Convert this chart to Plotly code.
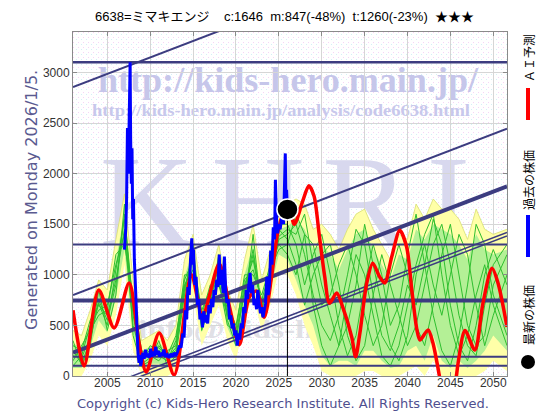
import base64
import plotly.graph_objects as go

# ---------------- data ----------------
# past prices (blue)
blue_x = [2007.00, 2007.15, 2007.25, 2007.35, 2007.45, 2007.55, 2007.66, 2007.72, 2007.80, 2007.88,
          2007.96, 2008.05, 2008.15, 2008.30, 2008.45, 2008.58, 2008.70, 2008.80, 2008.90, 2009.00,
          2009.15, 2009.30, 2009.45, 2009.60, 2009.75, 2009.90, 2010.05, 2010.20, 2010.35, 2010.50,
          2010.65, 2010.80, 2010.95, 2011.10, 2011.25, 2011.40, 2011.60, 2011.80, 2012.00, 2012.20,
          2012.40, 2012.60, 2012.80, 2013.00, 2013.20, 2013.40, 2013.60, 2013.80, 2013.95, 2014.10,
          2014.25, 2014.40, 2014.55, 2014.70, 2014.85, 2014.95, 2015.05, 2015.20, 2015.35, 2015.50,
          2015.65, 2015.80, 2015.95, 2016.10, 2016.25, 2016.40, 2016.55, 2016.70, 2016.85, 2017.00,
          2017.15, 2017.30, 2017.45, 2017.60, 2017.75, 2017.90, 2018.05, 2018.20, 2018.35, 2018.50,
          2018.65, 2018.80, 2018.95, 2019.10, 2019.25, 2019.40, 2019.55, 2019.70, 2019.85, 2020.00,
          2020.15, 2020.30, 2020.45, 2020.60, 2020.75, 2020.90, 2021.05, 2021.20, 2021.35, 2021.50,
          2021.65, 2021.80, 2021.95, 2022.10, 2022.25, 2022.40, 2022.55, 2022.70, 2022.85, 2023.00,
          2023.15, 2023.30, 2023.45, 2023.60, 2023.75, 2023.90, 2024.05, 2024.20, 2024.35, 2024.50,
          2024.60, 2024.70, 2024.85, 2025.00, 2025.15, 2025.30, 2025.45, 2025.55, 2025.65, 2025.75,
          2025.82, 2025.90, 2026.00]
blue_y = [1250, 1450, 1750, 2450, 2000, 2650, 3100, 2350, 1900, 2250,
          1550, 1750, 1150, 850, 420, 220, 130, 210, 100, 160,
          230, 170, 260, 190, 220, 180, 270, 190, 240, 200,
          290, 210, 250, 190, 230, 200, 260, 190, 210, 180,
          220, 190, 230, 200, 240, 300, 280, 420, 380, 650,
          560, 880, 800, 1150, 1360, 1100, 1250, 900, 980, 700,
          760, 560, 620, 480, 640, 530, 600, 520, 700, 620,
          760, 680, 850, 800, 950, 880, 1200, 900, 1050, 820,
          1180, 850, 720, 760, 560, 600, 470, 520, 400, 450,
          300, 420, 360, 520, 470, 680, 620, 850, 760, 900,
          1020, 820, 900, 700, 760, 660, 850, 720, 620, 680,
          580, 650, 720, 980, 800, 900, 1240, 1100, 1470, 1350,
          1940, 1600, 1410, 1500, 1450, 1540, 1640, 1500, 1800, 2200,
          1740, 1840, 1646]

# AI forecast (red)
red_x = [2001.0, 2002.3, 2004.0, 2005.8, 2007.55, 2008.7, 2009.55, 2011.05, 2012.8, 2014.8,
         2016.1, 2018.05, 2019.25, 2020.4, 2021.55, 2022.4, 2023.3, 2024.15, 2024.85, 2025.65,
         2026.1, 2026.8, 2027.75, 2028.5, 2029.1, 2029.7, 2030.35, 2030.9, 2031.75, 2032.45,
         2033.5, 2033.95, 2034.45, 2035.25, 2035.95, 2036.75, 2037.35, 2038.15, 2039.1, 2039.9,
         2040.5, 2041.1, 2041.45, 2042.4, 2042.95, 2043.45, 2043.9, 2044.7, 2045.55, 2045.9,
         2046.7, 2047.85, 2048.8, 2049.85, 2050.55, 2051.6]
red_y = [650, 100, 850, 475, 920, 330, 40, 425, 10, 1000,
         600, 1110, 680, 310, 780, 840, 580, 980, 1410, 1640,
         1700, 1500, 1720, 1880, 1780, 1400, 980, 720, 820, 680,
         385, 190, 425, 920, 1115, 980, 920, 1175, 1440, 1275,
         850, 455, 355, 455, 330, 128, -60, -180, -60, 128,
         450, 257, 720, 1065, 920, 485]

# ensemble of similar-pattern projections (green)
fan_x = [2001, 2002, 2003, 2004, 2005, 2006, 2007, 2008, 2009, 2010,
         2011, 2012, 2013, 2014, 2015, 2016, 2017, 2018, 2019, 2020,
         2021, 2022, 2023, 2024, 2025, 2026, 2027, 2028, 2029, 2030,
         2031, 2032, 2033, 2034, 2035, 2036, 2037, 2038, 2039, 2040,
         2041, 2042, 2043, 2044, 2045, 2046, 2047, 2048, 2049, 2050, 2051.6]
env_hi = [450, 400, 650, 950, 850, 1350, 1800, 950, 350, 400,
          450, 350, 500, 1150, 1400, 800, 1000, 1300, 850, 650,
          1150, 1500, 950, 1250, 1650, 1700, 1750, 1700, 1450, 1500,
          1400, 1250, 1450, 1600, 1650, 1450, 1300, 1150, 1400, 1350,
          1700, 1550, 1750, 1650, 1650, 1550, 1350, 1650, 1450, 1400, 1450]
env_lo = [0, 0, 150, 400, 300, 600, 1100, 250, 0, 0,
          0, 0, 50, 600, 800, 300, 500, 700, 350, 150,
          550, 800, 450, 700, 1050, 1000, 800, 500, 300, 50,
          0, 0, 0, 0, 50, 50, 0, 0, 0, 50,
          100, 0, 150, 0, 0, 0, 0, 0, 50, 150, 50]
band_hi = [320, 280, 520, 820, 700, 1150, 1600, 780, 250, 290,
           330, 240, 380, 980, 1250, 650, 880, 1150, 700, 500,
           1000, 1300, 780, 1080, 1450, 1480, 1550, 1450, 1250, 1300,
           1200, 1050, 1250, 1400, 1450, 1250, 1100, 950, 1200, 1150,
           1450, 1350, 1500, 1450, 1400, 1300, 1150, 1400, 1250, 1200, 1250]
band_lo = [80, 80, 280, 550, 430, 780, 1250, 420, 80, 120,
           120, 80, 180, 780, 950, 430, 680, 880, 480, 280,
           700, 950, 580, 850, 1200, 1150, 950, 700, 500, 200,
           100, 150, 150, 100, 250, 250, 150, 80, 100, 250,
           300, 150, 400, 150, 80, 150, 80, 150, 250, 400, 250]
green_lines = [
    [250, 120, 350, 750, 550, 900, 1600, 700, 120, 180, 300, 200, 250, 850, 1200, 500, 750, 1100, 650, 350,
     850, 1250, 650, 950, 1350, 1400, 1500, 1200, 800, 500, 350, 600, 1000, 1450, 1300, 800, 400, 250, 500, 900,
     700, 1100, 1550, 1300, 700, 300, 150, 500, 1000, 1250, 900],
    [100, 200, 500, 650, 700, 1100, 1400, 500, 200, 250, 200, 150, 350, 1000, 1000, 600, 900, 950, 500, 450,
     1000, 1000, 800, 1100, 1300, 1200, 1000, 1400, 1300, 900, 600, 300, 500, 900, 1500, 1100, 700, 300, 150, 400,
     1000, 1300, 900, 600, 1000, 1400, 1200, 700, 300, 600, 1000],
    [350, 100, 300, 850, 450, 800, 1700, 400, 100, 150, 350, 100, 200, 800, 1300, 450, 700, 1200, 550, 300,
     700, 1400, 600, 850, 1500, 1500, 1300, 900, 1200, 1400, 1000, 500, 200, 400, 900, 1300, 1000, 500, 700, 1200,
     1600, 1100, 600, 250, 100, 400, 900, 1500, 1300, 800, 400],
    [150, 300, 450, 600, 650, 1200, 1300, 800, 250, 200, 150, 250, 300, 950, 1150, 650, 850, 1050, 700, 500,
     950, 1050, 750, 1050, 1250, 1300, 1600, 1400, 700, 300, 100, 300, 800, 1200, 1000, 600, 200, 100, 300, 700,
     1100, 1400, 1600, 1000, 500, 200, 400, 800, 1100, 700, 300],
    [300, 250, 550, 700, 600, 950, 1450, 600, 150, 300, 250, 200, 400, 900, 1050, 550, 800, 900, 600, 400,
     900, 1150, 700, 1000, 1450, 1350, 1100, 700, 1000, 1200, 1300, 900, 400, 150, 300, 800, 1200, 900, 600, 300,
     500, 900, 1300, 1500, 1100, 600, 300, 200, 700, 1100, 1300],
    [200, 180, 380, 720, 500, 1050, 1550, 650, 180, 220, 280, 180, 280, 880, 1150, 500, 780, 1000, 620, 380,
     820, 1200, 680, 980, 1380, 1450, 1400, 1600, 1100, 700, 800, 1100, 1300, 1000, 600, 300, 500, 1000, 1300, 1000,
     500, 300, 700, 1200, 1500, 1000, 500, 300, 400, 900, 1200],
]

# reference levels (navy)
level_values = [3100, 1300, 745, 191, 102]
level_widths = [2.5, 2, 4, 2, 2]
trend_x = [2001, 2051.6]
trend_start = [2856, 800, 230, -225, -260]
trend_end = [4501, 2445, 1875, 1420, 1385]
trend_widths = [2, 2, 4, 1.5, 1.5]

latest_x = [2026.0]
latest_y = [1646]

x_ticks = [2005, 2010, 2015, 2020, 2025, 2030, 2035, 2040, 2045, 2050]
y_ticks = [0, 500, 1000, 1500, 2000, 2500, 3000]

title_text = ("6638=ミマキエンジ\u00a0\u00a0\u00a0\u00a0c:1646\u00a0\u00a0m:847(-48%)"
              "\u00a0\u00a0t:1260(-23%)\u00a0\u00a0★★★")

# ---------------- figure ----------------
NAVY = "#3c3c80"
fig = go.Figure()

fig.add_trace(go.Scatter(x=fan_x, y=env_lo, mode="lines", line=dict(width=0, color="#ffffa8"),
                         hoverinfo="skip", showlegend=False))
fig.add_trace(go.Scatter(x=fan_x, y=env_hi, mode="lines", line=dict(width=0.8, color="#d8e070"),
                         fill="tonexty", fillcolor="#ffffa8", hoverinfo="skip", showlegend=False))
fig.add_trace(go.Scatter(x=fan_x, y=band_lo, mode="lines", line=dict(width=0, color="#b0f090"),
                         hoverinfo="skip", showlegend=False))
fig.add_trace(go.Scatter(x=fan_x, y=band_hi, mode="lines", line=dict(width=0, color="#b0f090"),
                         fill="tonexty", fillcolor="#b4f096", hoverinfo="skip", showlegend=False))
for g in green_lines:
    fig.add_trace(go.Scatter(x=fan_x, y=g, mode="lines", line=dict(width=1, color="#2fbf2f"),
                             hoverinfo="skip", showlegend=False))

for v, w in zip(level_values, level_widths):
    fig.add_trace(go.Scatter(x=trend_x, y=[v, v], mode="lines", line=dict(width=w, color=NAVY),
                             hoverinfo="skip", showlegend=False))
for s, e, w in zip(trend_start, trend_end, trend_widths):
    fig.add_trace(go.Scatter(x=trend_x, y=[s, e], mode="lines", line=dict(width=w, color=NAVY),
                             hoverinfo="skip", showlegend=False))

fig.add_trace(go.Scatter(x=[latest_x[0], latest_x[0]], y=[0, latest_y[0]], mode="lines",
                         line=dict(width=1, color="#000000"), hoverinfo="skip", showlegend=False))

fig.add_trace(go.Scatter(x=red_x, y=red_y, mode="lines", line=dict(width=3.5, color="#ff0000", shape="spline",
                         smoothing=0.8), showlegend=False))
fig.add_trace(go.Scatter(x=blue_x, y=blue_y, mode="lines", line=dict(width=3, color="#0000ff"),
                         showlegend=False))
fig.add_trace(go.Scatter(x=latest_x, y=latest_y, mode="markers",
                         marker=dict(size=21, color="#000000", line=dict(width=1.5, color="#ffffff")),
                         showlegend=False))

# background with stipple + watermark (drawn below the plot)
W, H = 434, 344
svg = f'''<svg xmlns="http://www.w3.org/2000/svg" width="{W}" height="{H}" viewBox="0 0 {W} {H}">
<defs><pattern id="p" width="5" height="5" patternUnits="userSpaceOnUse">
<rect width="5" height="5" fill="#ffffff"/>
<rect x="0" y="0" width="1" height="1" fill="#f6d4f6"/>
<rect x="3" y="2" width="1" height="1" fill="#d4f0f6"/>
</pattern></defs>
<rect width="{W}" height="{H}" fill="url(#p)"/>
<text x="25" y="60" font-family="Liberation Serif, DejaVu Serif, serif" font-weight="bold" font-size="36"
 fill="#c6c6ea" textLength="380" lengthAdjust="spacingAndGlyphs">http://kids-hero.main.jp/</text>
<text x="19" y="84" font-family="Liberation Serif, DejaVu Serif, serif" font-weight="bold" font-size="17"
 fill="#c8c8ec" textLength="378" lengthAdjust="spacingAndGlyphs">http://kids-hero.main.jp/analysis/code6638.html</text>
<text x="27" y="213" font-family="Liberation Serif, DejaVu Serif, serif" font-size="130"
 fill="#d8d8ee" textLength="370" lengthAdjust="spacing">KHRI</text>
<text x="65" y="306" font-family="Liberation Serif, DejaVu Serif, serif" font-weight="bold" font-size="26"
 fill="#e0e0e6" textLength="340" lengthAdjust="spacingAndGlyphs">info@kids-hero.main.jp</text>
</svg>'''
src = "data:image/svg+xml;base64," + base64.b64encode(svg.encode("utf-8")).decode("ascii")
fig.add_layout_image(dict(source=src, xref="paper", yref="paper", x=0, y=1, sizex=1, sizey=1,
                          xanchor="left", yanchor="top", sizing="stretch", layer="below"))

# target page coordinates (page has an 8px body margin)
OFF = 8
PL, PT, PW, PH = 73, 32, 434, 344


def px(xp):
    return (xp - PL) / PW


def py(yp):
    return (PT + PH - yp) / PH


def note(text, xp, yp, size, color, family, angle=0):
    return dict(text=text, x=px(xp), y=py(yp), xref="paper", yref="paper", showarrow=False,
                xanchor="center", yanchor="middle", textangle=angle,
                font=dict(size=size, color=color, family=family))


ann = [
    note(title_text, 284, 17, 13, "#000000", "Liberation Sans, Noto Sans CJK JP"),
    note("Copyright (c) Kids-Hero Research Institute. All Rights Reserved.", 283, 403, 13, "#4f4f8f",
         "DejaVu Sans"),
    note("Generated on Monday 2026/1/5.", 31, 200, 16, "#5a5a90", "DejaVu Sans", -90),
]
for t, yc in [("ＡＩ予測", 58), ("過去の株価", 180), ("最新の株価", 315)]:
    ann.append(note(t, 528, yc, 12, "#000000", "Noto Sans CJK JP", -90))

shapes = [
    dict(type="line", xref="paper", yref="paper", x0=px(528), x1=px(528), y0=py(88), y1=py(120),
         line=dict(color="#ff0000", width=4)),
    dict(type="line", xref="paper", yref="paper", x0=px(528), x1=px(528), y0=py(215), y1=py(257),
         line=dict(color="#0000ff", width=4)),
    dict(type="circle", xref="paper", yref="paper", x0=px(521), x1=px(535), y0=py(369), y1=py(355),
         fillcolor="#000000", line=dict(color="#000000", width=0)),
]

axis_common = dict(showgrid=True, gridcolor="#d6d6d6", gridwidth=1, zeroline=False, showline=True,
                   linecolor="#8a8a8a", linewidth=1, mirror="allticks", ticks="inside", ticklen=4,
                   tickcolor="#8a8a8a", tickfont=dict(size=12, color="#333333", family="Liberation Sans"))
FW, FH = 560 - OFF, 420 - OFF
fig.update_layout(
    width=FW, height=FH,
    margin=dict(l=PL - OFF, r=FW - (PL - OFF) - PW, t=PT - OFF, b=FH - (PT - OFF) - PH),
    paper_bgcolor="#ffffff", plot_bgcolor="rgba(0,0,0,0)", showlegend=False,
    xaxis=dict(range=[2001, 2051.6], tickvals=x_ticks, ticklabelstandoff=-4, **axis_common),
    yaxis=dict(range=[0, 3400], tickvals=y_ticks, **axis_common),
    annotations=ann, shapes=shapes,
)

fig.write_html("out.html")
